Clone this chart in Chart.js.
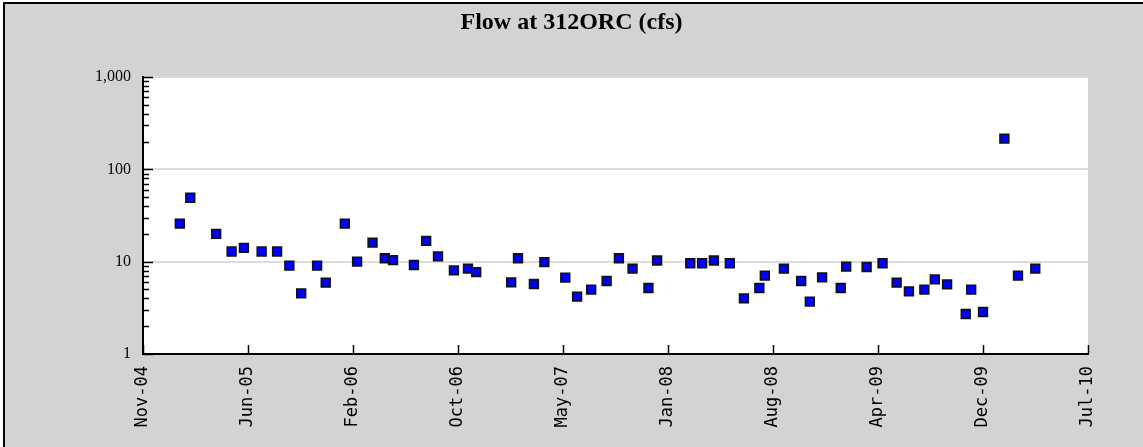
<!DOCTYPE html>
<html>
<head>
<meta charset="utf-8">
<script src="https://cdn.jsdelivr.net/npm/chart.js@4/dist/chart.umd.min.js"></script>
<style>
  html, body { margin: 0; padding: 0; background: #fff; }
  #wrap { position: relative; width: 1143px; height: 447px; }
</style>
</head>
<body>
<div id="wrap"><canvas id="flowChart" width="1143" height="447"></canvas></div>
<script>
// sample dates and flow (cfs)
const sampleDates = [
  '2005-01-30', '2005-02-22', '2005-04-20', '2005-05-24', '2005-06-20', '2005-07-29',
  '2005-09-01', '2005-09-28', '2005-10-24', '2005-11-28', '2005-12-17', '2006-01-28',
  '2006-02-24', '2006-03-30', '2006-04-26', '2006-05-14', '2006-06-29', '2006-07-26',
  '2006-08-21', '2006-09-25', '2006-10-26', '2006-11-13', '2007-01-29', '2007-02-13',
  '2007-03-20', '2007-04-12', '2007-05-28', '2007-06-23', '2007-07-24', '2007-08-27',
  '2007-09-23', '2007-10-23', '2007-11-27', '2007-12-16', '2008-02-27', '2008-03-24',
  '2008-04-19', '2008-05-24', '2008-06-24', '2008-07-28', '2008-08-09', '2008-09-20',
  '2008-10-28', '2008-11-16', '2008-12-13', '2009-01-23', '2009-02-04', '2009-03-21',
  '2009-04-25', '2009-05-26', '2009-06-22', '2009-07-26', '2009-08-18', '2009-09-14',
  '2009-10-25', '2009-11-06', '2009-12-02', '2010-01-18', '2010-02-17', '2010-03-27'
];
const flowValues = [
  25.8, 49.3, 20, 12.9, 14.1, 12.9,
  12.9, 9.05, 4.54, 9.05, 5.92, 25.8,
  10, 16.1, 10.9, 10.4, 9.2, 16.8,
  11.4, 8.05, 8.4, 7.7, 5.96, 10.9,
  5.73, 9.9, 6.71, 4.18, 4.98, 6.18,
  10.9, 8.4, 5.19, 10.3, 9.6, 9.6,
  10.3, 9.6, 4.0, 5.19, 7.05, 8.4,
  6.18, 3.69, 6.76, 5.19, 8.83, 8.76,
  9.6, 5.92, 4.77, 4.98, 6.43, 5.68,
  2.71, 4.98, 2.85, 215, 7.05, 8.4
];

// x axis: ticks every 231 days from 10 Nov 2004
const axisStart = '2004-11-10';
const tickStepDays = 231;
const xTickLabels = ['Nov-04', 'Jun-05', 'Feb-06', 'Oct-06', 'May-07', 'Jan-08', 'Aug-08', 'Apr-09', 'Dec-09', 'Jul-10'];
const yTickValues = [1, 10, 100, 1000];
const yTickLabels = ['1', '10', '100', '1,000'];
const chartTitle = 'Flow at 312ORC (cfs)';

const DAY = 86400000;
const toDays = s => (Date.parse(s + 'T00:00:00Z') - Date.parse(axisStart + 'T00:00:00Z')) / DAY;
const points = sampleDates.map((d, i) => ({ x: toDays(d), y: flowValues[i] }));

// gray frame, white plot area, title across the full width, inward tick marks
const framePlugin = {
  id: 'frame',
  beforeDraw(chart) {
    const { ctx, chartArea: a } = chart;
    ctx.save();
    ctx.fillStyle = '#d3d3d3';
    ctx.fillRect(3, 2, chart.width - 3, chart.height - 2);
    ctx.fillStyle = '#000';
    ctx.fillRect(3, 2, chart.width - 3, 2);
    ctx.fillRect(3, 2, 2, chart.height - 2);
    ctx.fillStyle = '#fff';
    ctx.fillRect(a.left, a.top, a.right - a.left, a.bottom - a.top);
    ctx.fillStyle = '#000';
    ctx.font = 'bold 24px "Liberation Serif", "Times New Roman", serif';
    ctx.textAlign = 'center';
    ctx.textBaseline = 'middle';
    ctx.fillText(chartTitle, chart.width / 2, 23);
    ctx.restore();
  },
  afterDatasetsDraw(chart) {
    const { ctx, chartArea: a, scales } = chart;
    ctx.save();
    ctx.strokeStyle = '#000';
    ctx.lineWidth = 1.5;
    ctx.beginPath();
    scales.x.ticks.forEach(t => {
      const px = Math.round(scales.x.getPixelForValue(t.value)) + 0.5;
      ctx.moveTo(px, a.bottom);
      ctx.lineTo(px, a.bottom - 9);
    });
    yTickValues.forEach((v, i) => {
      const py = Math.round(scales.y.getPixelForValue(v)) + 0.5;
      ctx.moveTo(a.left, py);
      ctx.lineTo(a.left + 10, py);
      if (i < yTickValues.length - 1) {
        for (let m = 2; m <= 9; m++) {
          const my = Math.round(scales.y.getPixelForValue(v * m)) + 0.5;
          ctx.moveTo(a.left, my);
          ctx.lineTo(a.left + 6, my);
        }
      }
    });
    ctx.stroke();
    ctx.restore();
  }
};

new Chart(document.getElementById('flowChart'), {
  type: 'scatter',
  data: {
    datasets: [{
      label: 'Flow',
      data: points,
      pointStyle: 'rect',
      pointRadius: 6.2,
      pointHoverRadius: 6.2,
      backgroundColor: '#0000ff',
      borderColor: '#111',
      borderWidth: 1.6
    }]
  },
  options: {
    responsive: false,
    animation: false,
    layout: { padding: { left: 0, right: 55, top: 77, bottom: 0 } },
    plugins: {
      legend: { display: false },
      tooltip: { enabled: false },
      title: { display: false }
    },
    scales: {
      x: {
        type: 'linear',
        min: 0,
        max: tickStepDays * (xTickLabels.length - 1),
        grid: { display: true, drawOnChartArea: false, drawTicks: false },
        border: { display: true, color: '#000', width: 2 },
        afterFit: s => { s.height = 93; },
        ticks: {
          stepSize: tickStepDays,
          autoSkip: false,
          minRotation: 90,
          maxRotation: 90,
          padding: 12,
          color: '#000',
          font: { family: '"DejaVu Sans Mono", monospace', size: 17 },
          callback: (v, i) => xTickLabels[i]
        }
      },
      y: {
        type: 'logarithmic',
        min: 1,
        max: 1000,
        afterBuildTicks: s => { s.ticks = yTickValues.map(v => ({ value: v })); },
        afterFit: s => { s.width = 143; },
        grid: { color: '#dcdcdc', lineWidth: 2, drawTicks: false },
        border: { display: true, color: '#000', width: 2 },
        ticks: {
          padding: 12,
          color: '#000',
          font: { family: '"Liberation Serif", "Times New Roman", serif', size: 16 },
          callback: (v, i) => yTickLabels[yTickValues.indexOf(v)]
        }
      }
    }
  },
  plugins: [framePlugin]
});
</script>
</body>
</html>
